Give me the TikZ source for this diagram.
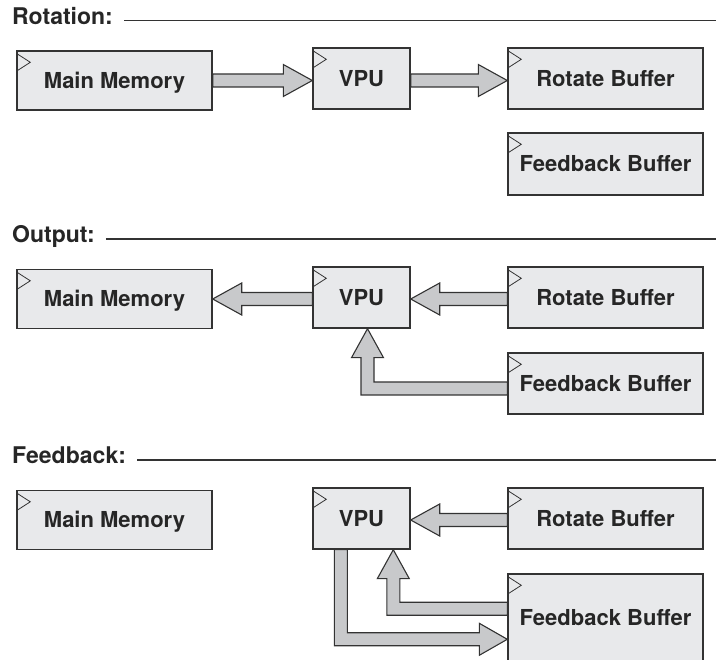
\documentclass[tikz,border=0pt]{standalone}
\usepackage{fontspec}
\setmainfont{TeX Gyre Heros}
\usetikzlibrary{calc}

\definecolor{boxfill}{HTML}{E8E9EB}
\definecolor{arrowfill}{HTML}{C8C9CB}
\definecolor{edge}{HTML}{333333}
\definecolor{ink}{HTML}{262626}

\tikzset{
  box/.style={draw=edge, fill=boxfill, line width=1.4pt, text=ink, inner sep=0pt,
    font=\bfseries\fontsize{22}{26}\selectfont, text height=15.8pt, text depth=0pt,
    minimum width=195pt, minimum height=61pt},
  small/.style={box, minimum width=97pt},
  heading/.style={anchor=base west, inner sep=0pt, text=ink,
    font=\bfseries\fontsize{23}{27}\selectfont},
  rule/.style={draw=edge, line width=1.2pt},
  cornermark/.style={draw=edge, line width=0.8pt},
  blockarrow/.style={draw=edge, fill=arrowfill, line width=1.1pt}
}

% straight block arrow: tail, tip, head length (negative points right)
\newcommand{\harrow}[3]{%
  \filldraw[blockarrow] ($(#1)+(0,-6.5)$) -- ($(#2)+(#3,-6.5)$) -- ++(0,-9.5) -- (#2)
    -- ++(#3,16) -- ++(0,-9.5) -- ($(#1)+(0,6.5)$) -- cycle;}

\begin{document}
\begin{tikzpicture}[x=1pt,y=-1pt]
  \useasboundingbox (0,0) rectangle (716,660);
  \coordinate (edgeR) at (716,0);

  % rotation
  \node[heading] (hA) at (12,24.5) {Rotation:};
  \node[box, minimum height=59pt] (mmA) at (114.5,80.5) {Main Memory};
  \node[small] (vpuA) at (361.5,78.5) {VPU};
  \node[box] (rbA) at (605.5,78.5) {Rotate Buffer};
  \node[box, minimum height=62pt] (fbA) at (605.5,164) {Feedback Buffer};

  % output
  \node[heading] (hB) at (12,243) {Output:};
  \node[box, minimum height=59pt] (mmB) at (114.5,299) {Main Memory};
  \node[small] (vpuB) at (361.5,297.5) {VPU};
  \node[box] (rbB) at (605.5,297.5) {Rotate Buffer};
  \node[box] (fbB) at (605.5,383.5) {Feedback Buffer};

  % feedback
  \node[heading] (hC) at (12,464) {Feedback:};
  \node[box, minimum height=59pt] (mmC) at (114.5,520) {Main Memory};
  \node[small] (vpuC) at (361.5,518.5) {VPU};
  \node[box] (rbC) at (605.5,518.5) {Rotate Buffer};
  \node[box, minimum height=87pt] (fbC) at (605.5,617.5) {Feedback Buffer};

  \foreach \h in {hA,hB,hC}
    \draw[rule] ($(\h.base east)+(11,-4)$) coordinate (\h-s) -- (\h-s -| edgeR);

  \foreach \n in {mmA,vpuA,rbA,fbA,mmB,vpuB,rbB,fbB,mmC,vpuC,rbC,fbC}
    \draw[cornermark] ($(\n.north west)+(0,3)$) -- ++(14,9) -- ++(-14,9);

  \harrow{mmA.east}{vpuA.west|-mmA.east}{-29}
  \harrow{vpuA.east|-mmA.east}{rbA.west|-mmA.east}{-29}

  \harrow{vpuB.west|-mmB.east}{mmB.east}{29}
  \harrow{rbB.west|-mmB.east}{vpuB.east|-mmB.east}{29}
  \filldraw[blockarrow] ($(fbB.west)+(0,-1.5)$) -| ($(vpuB.south)+(12.5,29)$) -- ++(9.5,0)
    -- ($(vpuB.south)+(6,0)$) -- ++(-16,29) -- ++(9.5,0) |- ($(fbB.west)+(0,11.5)$) -- cycle;

  \harrow{rbC.west|-mmC.east}{vpuC.east|-mmC.east}{29}
  \filldraw[blockarrow] ($(fbC.north west)+(0,29)$) -| ($(vpuC.south west)+(87.5,29)$) -- ++(9.5,0)
    -- ($(vpuC.south west)+(81,0)$) -- ++(-16,29) -- ++(9.5,0) |- ($(fbC.north west)+(0,42)$) -- cycle;
  \filldraw[blockarrow] ($(vpuC.south west)+(35,0)$) |- ($(fbC.north west)+(-28,59.5)$) -- ++(0,-9.5)
    -- ($(fbC.north west)+(0,66)$) -- ++(-28,16) -- ++(0,-9.5) -| ($(vpuC.south west)+(22,0)$) -- cycle;
\end{tikzpicture}
\end{document}
